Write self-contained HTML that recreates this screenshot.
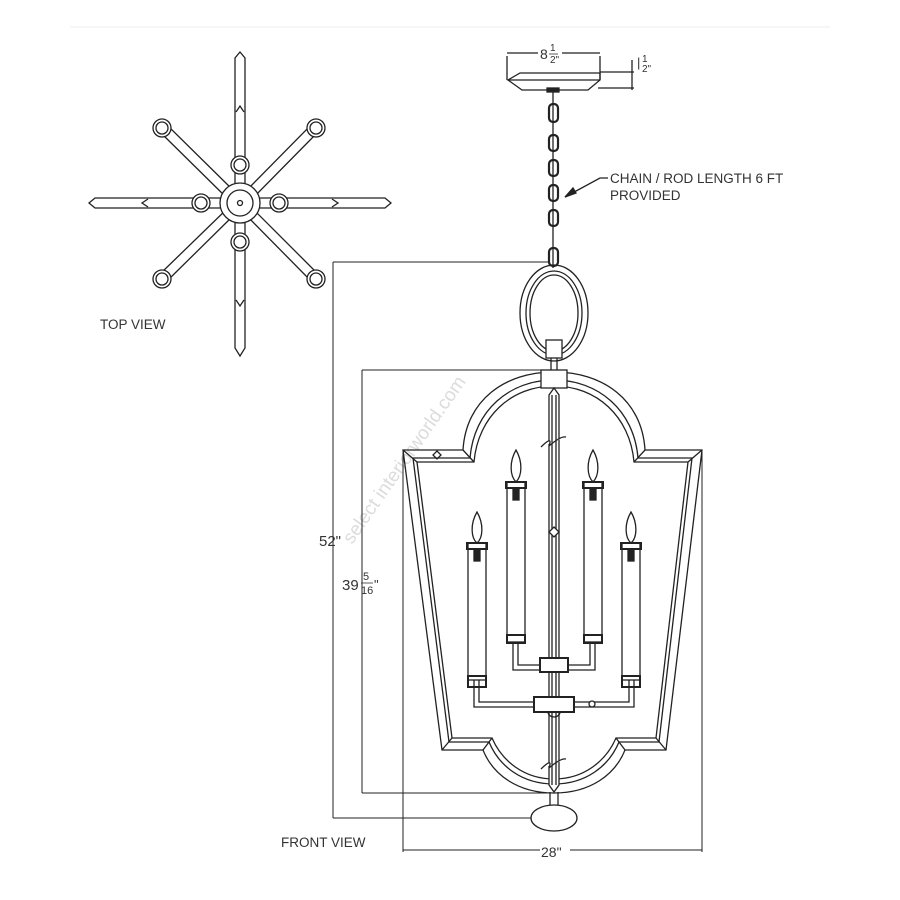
<!DOCTYPE html>
<html><head><meta charset="utf-8"><style>
html,body{margin:0;padding:0;background:#fff;}
svg{display:block}
text{font-family:"Liberation Sans",sans-serif;fill:#333;}
</style></head><body>
<svg width="900" height="900" viewBox="0 0 900 900" xmlns="http://www.w3.org/2000/svg">
<line x1="70" y1="27" x2="830" y2="27" stroke="#eee" stroke-width="1"/>
<text x="352" y="545" font-size="19" style="fill:#dcdcdc" transform="rotate(-55 352 545)">select interiorworld.com</text>
<g fill="none" stroke="#222" stroke-width="1.3">
<!-- TOP VIEW -->
<path d="M240,52 L245,58 L245,348 L240,356 L235,348 L235,58 Z"/>
<path d="M236,112 L240,106 L244,112 M236,300 L240,306 L244,300"/>
<path d="M89,203 L95,198 L385,198 L391,203 L385,208 L95,208 Z"/>
<path d="M148,199 L142,203 L148,207 M332,199 L338,203 L332,207"/>
<g>
<line x1="166" y1="124" x2="236" y2="193"/><line x1="160" y1="132" x2="230" y2="201"/>
<line x1="312" y1="124" x2="244" y2="193"/><line x1="318" y1="132" x2="250" y2="201"/>
<line x1="160" y1="274" x2="230" y2="206"/><line x1="166" y1="282" x2="236" y2="213"/>
<line x1="318" y1="274" x2="250" y2="206"/><line x1="312" y1="282" x2="244" y2="213"/>
</g>
<g fill="#fff">
<circle cx="240" cy="203" r="20"/>
<circle cx="162" cy="128" r="9"/><circle cx="162" cy="128" r="6"/>
<circle cx="316" cy="128" r="9"/><circle cx="316" cy="128" r="6"/>
<circle cx="162" cy="279" r="9"/><circle cx="162" cy="279" r="6"/>
<circle cx="316" cy="279" r="9"/><circle cx="316" cy="279" r="6"/>
<circle cx="240" cy="165" r="9"/><circle cx="240" cy="165" r="6"/>
<circle cx="240" cy="242" r="9"/><circle cx="240" cy="242" r="6"/>
<circle cx="201" cy="203" r="9"/><circle cx="201" cy="203" r="6"/>
<circle cx="279" cy="203" r="9"/><circle cx="279" cy="203" r="6"/>
<circle cx="240" cy="203" r="13"/><circle cx="240" cy="203" r="2.5"/>
</g>
<!-- canopy -->
<path d="M507,56 L507,80 M600,56 L600,80"/>
<path d="M520,73 L600,73 L600,80 L588,90 L522,90 L508,80 Z"/>
<line x1="508" y1="80" x2="600" y2="80"/>
<line x1="507" y1="53" x2="538" y2="53"/><line x1="562" y1="53" x2="600" y2="53"/>
<line x1="600" y1="72" x2="634" y2="72"/><line x1="598" y1="88" x2="634" y2="88"/>
<line x1="632" y1="60" x2="632" y2="90"/>
<!-- chain -->
<rect x="547" y="88" width="12" height="4" fill="#222"/>
<g stroke-width="2.2">
<rect x="549" y="104" width="9" height="18" rx="4"/>
<rect x="549" y="135" width="9" height="16" rx="4"/>
<rect x="549" y="160" width="9" height="16" rx="4"/>
<rect x="549" y="185" width="9" height="16" rx="4"/>
<rect x="549" y="210" width="9" height="16" rx="4"/>
<rect x="549" y="248" width="9" height="18" rx="4"/>
</g>
<line x1="553" y1="92" x2="553" y2="268"/>
<path d="M565,197 L600,178 L608,178"/>
<path d="M565,197 L573,188 L576,193 Z" fill="#222"/>
<!-- ring -->
<ellipse cx="554" cy="313" rx="34" ry="48"/>
<ellipse cx="554" cy="313" rx="28" ry="42"/>
<ellipse cx="554" cy="313" rx="24" ry="38"/>
<rect x="546" y="340" width="16" height="18" fill="#fff"/>
<line x1="551" y1="358" x2="551" y2="370"/><line x1="557" y1="358" x2="557" y2="370"/>
<!-- frame -->
<path d="M403,450 L463,450 C466,400 505,372 554,372 C603,372 642,400 645,450 L702,450 L666,750 L625,750 C615,775 590,793 554,793 C518,793 493,775 483,750 L442,750 Z"/>
<path d="M413,458 L470,458 C474,410 510,380 554,380 C598,380 634,410 638,458 L692,458 L659,742 L619,742 C609,766 586,784 554,784 C522,784 499,766 489,742 L449,742 Z"/>
<path d="M417,462 L474,462 C478,416 512,386 554,386 C596,386 630,416 634,462 L688,462 L656,738 L616,738 C606,761 584,779 554,779 C524,779 502,761 492,738 L452,738 Z"/>
<path d="M403,450 L417,462 M702,450 L688,462 M442,750 L452,738 M666,750 L656,738 M463,450 L474,462 M645,450 L634,462 M483,750 L492,738 M625,750 L616,738"/>
<path d="M437,451 L441,455 L437,459 L433,455 Z"/>
<rect x="541" y="370" width="26" height="18" fill="#fff"/>
<!-- rod -->
<path d="M549,395 L554,388 L559,395 L559,785 L554,792 L549,785 Z" fill="#fff"/>
<line x1="552" y1="395" x2="552" y2="785"/><line x1="556" y1="395" x2="556" y2="785"/>
<path d="M541,447 C548,440 552,438 549,446 C556,440 562,436 566,437" fill="#fff"/>
<path d="M541,769 C548,762 552,760 549,768 C556,762 562,758 566,759" fill="#fff"/>
<path d="M554,527 L559,532 L554,537 L549,532 Z" fill="#fff"/>
<line x1="550" y1="792" x2="550" y2="806"/><line x1="558" y1="792" x2="558" y2="806"/>
<ellipse cx="554" cy="818" rx="23" ry="13" fill="#fff"/>
<!-- arms -->
<path d="M513,642 L513,670 L595,670 L595,642 M518,642 L518,665 L590,665 L590,642"/>
<path d="M474,680 L474,707 L634,707 L634,680 M479,680 L479,702 L629,702 L629,680"/>
<rect x="540" y="658" width="28" height="14" fill="#fff" stroke-width="2"/>
<rect x="534" y="697" width="40" height="15" fill="#fff" stroke-width="2"/>
<path d="M548,712 A6,5 0 0 0 560,712"/>
<circle cx="592" cy="704" r="3" fill="#fff"/>
<!-- candles -->
<g>
<rect x="468" y="543" width="18" height="137"/>
<rect x="468" y="676" width="18" height="11" stroke-width="2"/>
<rect x="467" y="543" width="20" height="6" stroke-width="2"/>
<path d="M477,512 C470,524 471,538 477,543 C483,538 484,524 477,512 Z"/>
<rect x="474" y="549" width="6" height="12" fill="#222"/>
</g>
<g>
<rect x="507" y="482" width="18" height="160"/>
<rect x="507" y="635" width="18" height="8" stroke-width="2"/>
<rect x="506" y="482" width="20" height="6" stroke-width="2"/>
<path d="M516,450 C509,462 510,476 516,482 C522,476 523,462 516,450 Z"/>
<rect x="513" y="488" width="6" height="12" fill="#222"/>
</g>
<g>
<rect x="584" y="482" width="18" height="160"/>
<rect x="584" y="635" width="18" height="8" stroke-width="2"/>
<rect x="583" y="482" width="20" height="6" stroke-width="2"/>
<path d="M593,450 C586,462 587,476 593,482 C599,476 600,462 593,450 Z"/>
<rect x="590" y="488" width="6" height="12" fill="#222"/>
</g>
<g>
<rect x="622" y="543" width="18" height="137"/>
<rect x="622" y="676" width="18" height="11" stroke-width="2"/>
<rect x="621" y="543" width="20" height="6" stroke-width="2"/>
<path d="M631,512 C624,524 625,538 631,543 C637,538 638,524 631,512 Z"/>
<rect x="628" y="549" width="6" height="12" fill="#222"/>
</g>
</g>
<!-- dimensions -->
<g stroke="#222" stroke-width="1" fill="none">
<line x1="333" y1="262" x2="549" y2="262"/>
<line x1="333" y1="262" x2="333" y2="818"/>
<line x1="333" y1="818" x2="531" y2="818"/>
<line x1="362" y1="370" x2="541" y2="370"/>
<line x1="362" y1="370" x2="362" y2="793"/>
<line x1="362" y1="793" x2="554" y2="793"/>
<line x1="403" y1="450" x2="403" y2="852"/>
<line x1="702" y1="450" x2="702" y2="852"/>
<line x1="403" y1="850" x2="540" y2="850"/>
<line x1="570" y1="850" x2="702" y2="850"/>
</g>
<text x="540" y="59" font-size="14">8</text>
<text x="550" y="51" font-size="10">1</text>
<line x1="549" y1="54" x2="558" y2="54" stroke="#333" stroke-width="0.8"/>
<text x="550" y="63" font-size="10">2"</text>
<text x="637" y="67" font-size="13">|</text>
<text x="642" y="62" font-size="10">1</text>
<text x="642" y="72" font-size="10">2"</text>
<text x="610" y="183" font-size="13.5">CHAIN / ROD LENGTH 6 FT</text>
<text x="610" y="200" font-size="13.5">PROVIDED</text>
<text x="100" y="329" font-size="13.5">TOP VIEW</text>
<text x="281" y="847" font-size="13.5">FRONT  VIEW</text>
<text x="319" y="546" font-size="15">52"</text>
<text x="342" y="590" font-size="15">39</text>
<text x="363" y="580" font-size="11">5</text>
<line x1="361" y1="583" x2="373" y2="583" stroke="#333" stroke-width="0.8"/>
<text x="361" y="594" font-size="11">16</text>
<text x="374" y="589" font-size="13">"</text>
<text x="541" y="857" font-size="14">28"</text>
</svg>
</body></html>
